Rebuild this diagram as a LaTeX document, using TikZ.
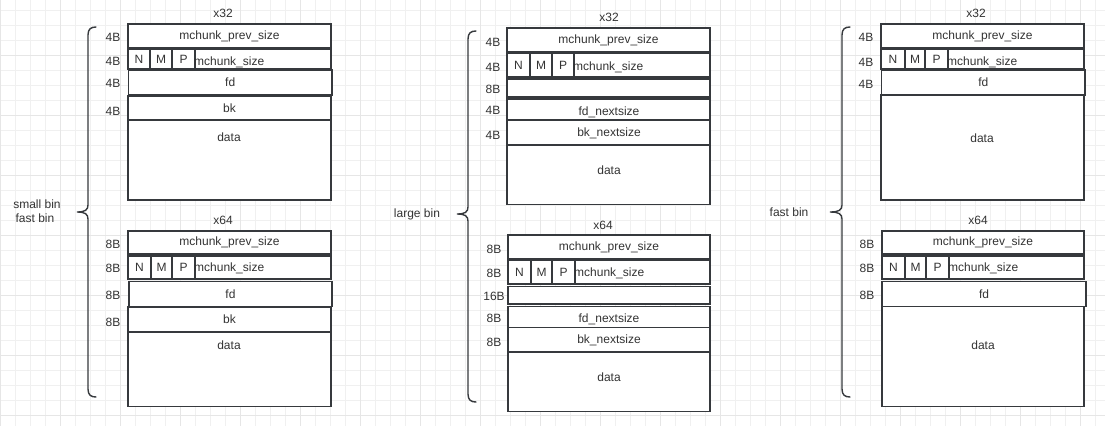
\documentclass[tikz,border=0pt]{standalone}
\usepackage{fontspec}
\setmainfont{Liberation Sans}
\definecolor{ln}{HTML}{36393D}
\definecolor{tx}{HTML}{333333}
\definecolor{gminor}{HTML}{F0F0F0}
\definecolor{gmajor}{HTML}{E6E6E6}
\newcommand{\fs}{\fontsize{12}{14}\selectfont}
\tikzset{
  cellbox/.style={draw=ln, line width=1.4pt, fill=white, inner sep=0pt, outer sep=0pt, anchor=north west, text=tx, font=\fs},
  lbl/.style={text=tx, font=\fs, inner sep=0pt},
  sizetext/.style={text=tx, font=\fs, inner sep=0pt, anchor=west},
  bracepath/.style={draw=ln, line width=1.4pt, line cap=round},
  gridminor/.style={draw=gminor, line width=0.8pt},
  gridmajor/.style={draw=gmajor, line width=1pt},
}
\newcommand{\cell}[6]{\node[cellbox, minimum width={(#4)-(#2)}, minimum height={(#5)-(#3)}] (#1) at (#2,#3) {#6};}
\newcommand{\curly}[5]{%
  \draw[bracepath] (#1+8,#2) .. controls (#1+3,#2) and (#1,#2+2) .. (#1,#2+8) -- (#1,#5-7)
    .. controls (#1,#5-2) and (#1-3,#5) .. (#4,#5)
    .. controls (#1-3,#5) and (#1,#5+2) .. (#1,#5+7) -- (#1,#3-8)
    .. controls (#1,#3-2) and (#1+3,#3) .. (#1+8,#3);}
\begin{document}
\begin{tikzpicture}[x=1pt,y=-1pt]
\useasboundingbox (0,0) rectangle (1105,426);
\fill[white] (0,0) rectangle (1105,426);
% grid
\foreach \x in {0,15,...,1095} \draw[gridminor] (\x,0) -- (\x,426);
\foreach \y in {10,25,...,415} \draw[gridminor] (0,\y) -- (1105,\y);
\foreach \x in {0,60,...,1080} \draw[gridmajor] (\x,0) -- (\x,426);
\foreach \y in {55,115,...,415} \draw[gridmajor] (0,\y) -- (1105,\y);

% ===== Column 1 : small bin / fast bin =====
\curly{88}{27}{397}{77}{212}
\node[lbl] (smallbin) at (37,204) {small bin};
\node[lbl] (fastbinA) at (35,218) {fast bin};

% top x32
\node[lbl] (a32) at (223,13) {x32};
\cell{aP}{128}{24}{331}{48}{mchunk\_prev\_size}
\cell{aS}{128}{49}{331}{69}{}
\cell{aN}{128}{49}{150}{69}{N}
\cell{aM}{150}{49}{172}{69}{M}
\cell{aPP}{172}{49}{195}{69}{P}
\node[sizetext] (aSt) at (194,62) {mchunk\_size};
\cell{aF}{128.5}{70}{332}{95}{fd}
\cell{aB}{128}{96}{331}{120}{bk}
\cell{aD}{128}{120}{331}{200}{}
\node[lbl] (aDt) at (229,137) {data};
\node[lbl] (aL1) at (113,37) {4B};
\node[lbl] (aL2) at (113,61) {4B};
\node[lbl] (aL3) at (113,83) {4B};
\node[lbl] (aL4) at (113,111) {4B};

% bottom x64
\node[lbl] (b64) at (223,220) {x64};
\cell{bP}{128}{231}{331}{254}{mchunk\_prev\_size}
\cell{bS}{128}{256}{331}{279}{}
\cell{bN}{128}{256}{151}{279}{N}
\cell{bM}{151}{256}{172}{279}{M}
\cell{bPP}{172}{256}{195}{279}{P}
\node[sizetext] (bSt) at (194,268) {mchunk\_size};
\cell{bF}{129}{281.5}{332}{306.5}{fd}
\cell{bB}{128}{307}{331}{332}{bk}
\cell{bD}{128}{332}{331}{406.5}{}
\node[lbl] (bDt) at (229,345) {data};
\node[lbl] (bL1) at (113,244) {8B};
\node[lbl] (bL2) at (113,268) {8B};
\node[lbl] (bL3) at (113,295) {8B};
\node[lbl] (bL4) at (113,322) {8B};

% ===== Column 2 : large bin =====
\curly{468}{31}{402}{457}{214}
\node[lbl] (largebin) at (417,214) {large bin};

% top x32
\node[lbl] (c32) at (609,17) {x32};
\cell{cP}{507}{28}{710}{52}{mchunk\_prev\_size}
\cell{cS}{507}{53}{710}{77}{}
\cell{cN}{507}{53}{530}{77}{N}
\cell{cM}{530}{53}{552}{77}{M}
\cell{cPP}{552}{53}{574}{77}{P}
\node[sizetext] (cSt) at (573,67) {mchunk\_size};
\cell{cE}{507}{79}{710}{97}{}
\cell{cF}{507}{99}{710}{120}{}
\node[lbl] (cFt) at (609,112) {fd\_nextsize};
\cell{cB}{507}{120}{710}{145}{}
\node[lbl] (cBt) at (609,133) {bk\_nextsize};
\cell{cD}{507}{145}{710}{204.5}{}
\node[lbl] (cDt) at (609,170) {data};
\node[lbl] (cL1) at (493,42) {4B};
\node[lbl] (cL2) at (493,67) {4B};
\node[lbl] (cL3) at (493,89) {8B};
\node[lbl] (cL4) at (493,110) {4B};
\node[lbl] (cL5) at (493,135) {4B};

% bottom x64
\node[lbl] (d64) at (603,225) {x64};
\cell{dP}{508}{235}{710}{259}{mchunk\_prev\_size}
\cell{dS}{508}{260}{710}{284}{}
\cell{dN}{508}{260}{531}{284}{N}
\cell{dM}{531}{260}{552}{284}{M}
\cell{dPP}{552}{260}{575}{284}{P}
\node[sizetext] (dSt) at (574,273) {mchunk\_size};
\cell{dE}{508}{286.5}{710}{304}{}
\cell{dF}{508}{306.5}{710}{327.5}{}
\node[lbl] (dFt) at (609,319) {fd\_nextsize};
\cell{dB}{508}{327.5}{710}{352}{}
\node[lbl] (dBt) at (609,340) {bk\_nextsize};
\cell{dD}{508}{352}{710}{411.5}{}
\node[lbl] (dDt) at (609,377) {data};
\node[lbl] (dL1) at (494,249) {8B};
\node[lbl] (dL2) at (494,273) {8B};
\node[lbl] (dL3) at (494,296) {16B};
\node[lbl] (dL4) at (494,318) {8B};
\node[lbl] (dL5) at (494,342) {8B};

% ===== Column 3 : fast bin =====
\curly{842}{27}{397}{830}{212}
\node[lbl] (fastbinB) at (789,212) {fast bin};

% top x32
\node[lbl] (e32) at (976,13) {x32};
\cell{eP}{881}{24}{1084}{48}{mchunk\_prev\_size}
\cell{eS}{881}{49}{1084}{69}{}
\cell{eN}{881}{49}{905}{69}{N}
\cell{eM}{905}{49}{925}{69}{M}
\cell{ePP}{925}{49}{948}{69}{P}
\node[sizetext] (eSt) at (947,62) {mchunk\_size};
\cell{eF}{881.5}{70}{1085}{95}{fd}
\cell{eD}{881}{95}{1084}{200}{}
\node[lbl] (eDt) at (982,138) {data};
\node[lbl] (eL1) at (866,37) {4B};
\node[lbl] (eL2) at (866,62) {4B};
\node[lbl] (eL3) at (866,84) {4B};

% bottom x64
\node[lbl] (f64) at (978,220) {x64};
\cell{fP}{882}{231}{1084}{254}{mchunk\_prev\_size}
\cell{fS}{882}{256}{1084}{279}{}
\cell{fN}{882}{256}{905}{279}{N}
\cell{fM}{905}{256}{926}{279}{M}
\cell{fPP}{926}{256}{949}{279}{P}
\node[sizetext] (fSt) at (948,268) {mchunk\_size};
\cell{fF}{882}{281.5}{1086}{306.5}{fd}
\cell{fD}{882}{306.5}{1084}{406.5}{}
\node[lbl] (fDt) at (983,345) {data};
\node[lbl] (fL1) at (867,244) {8B};
\node[lbl] (fL2) at (867,268) {8B};
\node[lbl] (fL3) at (867,295) {8B};
\end{tikzpicture}
\end{document}
